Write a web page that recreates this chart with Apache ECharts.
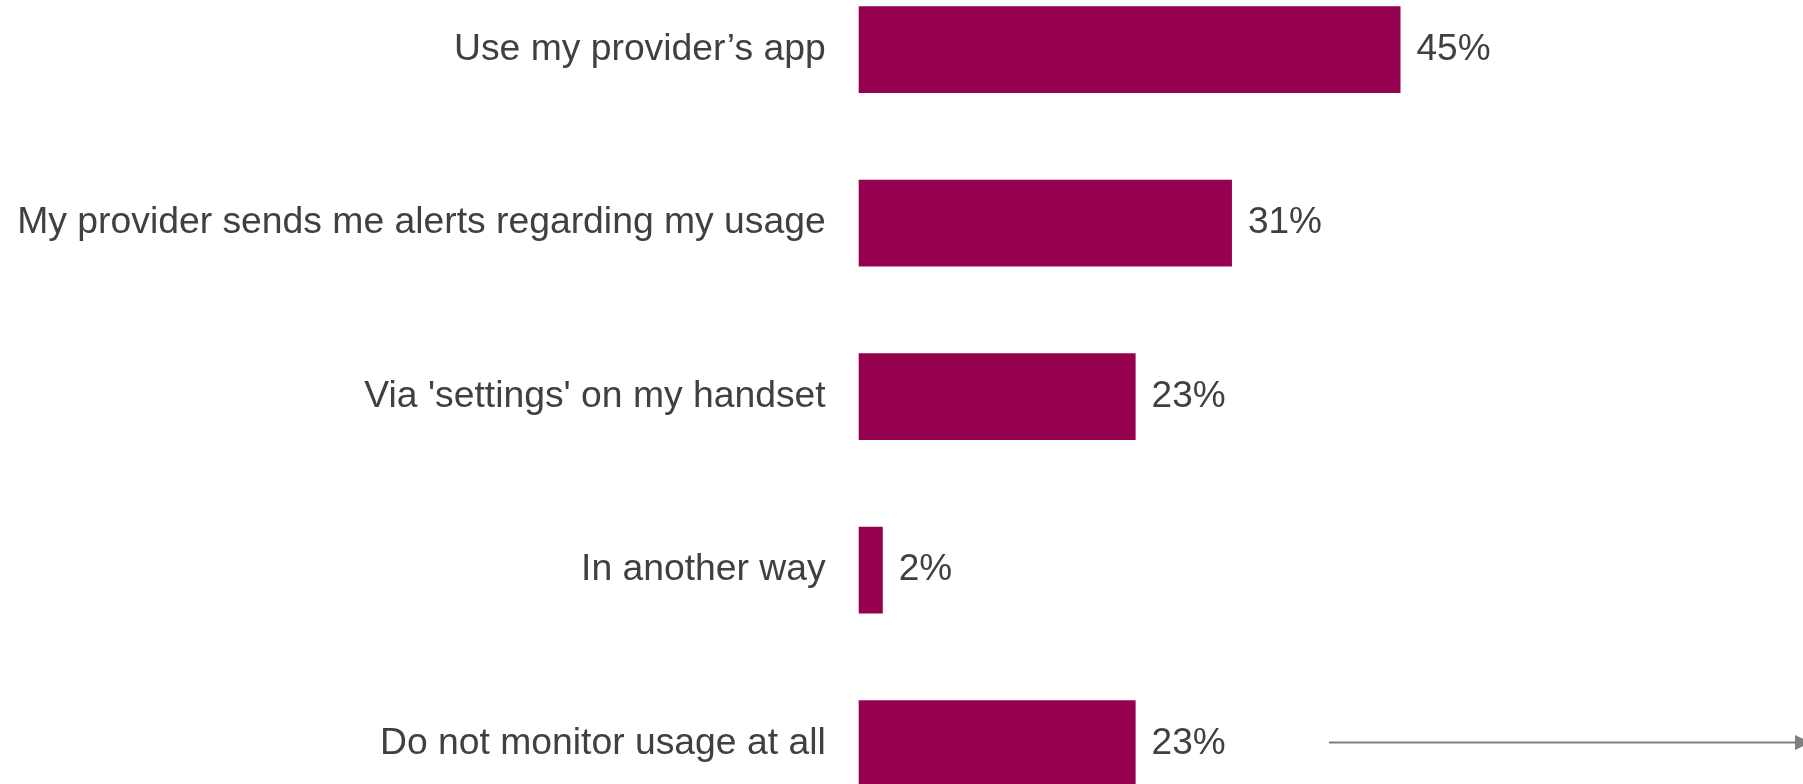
<!DOCTYPE html>
<html>
<head>
<meta charset="utf-8">
<script src="https://cdn.jsdelivr.net/npm/echarts@6/dist/echarts.min.js"></script>
<style>
html,body{margin:0;padding:0;background:#fff;}
#chart{width:1803px;height:784px;}
</style>
</head>
<body>
<div id="chart"></div>
<script>
const categories = [
  "Use my provider\u2019s app",
  "My provider sends me alerts regarding my usage",
  "Via 'settings' on my handset",
  "In another way",
  "Do not monitor usage at all"
];
const values = [45, 31, 23, 2, 23];

const chart = echarts.init(document.getElementById('chart'), null, {renderer: 'canvas'});
const FONT = '"Liberation Sans", Arial, sans-serif';
chart.setOption({
  animation: false,
  backgroundColor: '#ffffff',
  grid: {
    left: 858.7,
    right: 221.9,
    top: -37.1,
    bottom: -46.4,
    containLabel: false,
    outerBoundsMode: 'none'
  },
  xAxis: {
    type: 'value',
    min: 0,
    max: 60,
    show: false
  },
  yAxis: {
    type: 'category',
    data: categories,
    inverse: true,
    axisLine: {show: false},
    axisTick: {show: false},
    axisLabel: {
      margin: 33,
      fontFamily: FONT,
      fontSize: 37.3,
      color: '#404040'
    }
  },
  series: [{
    type: 'bar',
    data: values,
    barWidth: '50%',
    itemStyle: {color: '#95004F'},
    label: {
      show: true,
      position: 'right',
      distance: 16,
      formatter: '{c}%',
      fontFamily: FONT,
      fontSize: 37,
      color: '#404040'
    }
  }],
  graphic: [
    {
      type: 'line',
      shape: {x1: 1329, y1: 742.5, x2: 1798, y2: 742.5},
      style: {stroke: '#7f7f7f', lineWidth: 2}
    },
    {
      type: 'polygon',
      shape: {points: [[1795, 735], [1811, 742.5], [1795, 750]]},
      style: {fill: '#7f7f7f'}
    }
  ]
});
</script>
</body>
</html>
